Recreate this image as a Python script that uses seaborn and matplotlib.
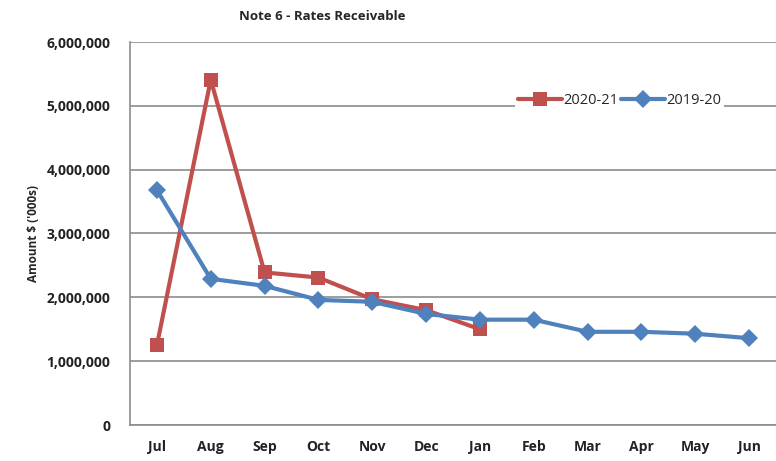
import numpy as np
import pandas as pd
import matplotlib
matplotlib.use('Agg')
import matplotlib.pyplot as plt
import seaborn as sns
from matplotlib.ticker import FuncFormatter

months = ['Jul', 'Aug', 'Sep', 'Oct', 'Nov', 'Dec', 'Jan', 'Feb', 'Mar', 'Apr', 'May', 'Jun']
rates_2021 = [1250000, 5410000, 2390000, 2310000, 1970000, 1800000, 1500000]
rates_1920 = [3680000, 2290000, 2180000, 1960000, 1930000, 1740000, 1650000,
              1650000, 1460000, 1460000, 1430000, 1360000]

df = pd.concat([
    pd.DataFrame({'Month': months[:len(rates_2021)], 'Amount': rates_2021, 'Year': '2020-21'}),
    pd.DataFrame({'Month': months, 'Amount': rates_1920, 'Year': '2019-20'}),
])
df['x'] = df['Month'].map({m: i for i, m in enumerate(months)})

sns.set_style('white')
plt.rcParams['font.family'] = ['Open Sans', 'DejaVu Sans']

fig = plt.figure(figsize=(7.76, 4.61), dpi=100)
ax = fig.add_axes([130 / 776, 1 - 425 / 461, 646 / 776, 383 / 461])

palette = {'2020-21': '#C0504D', '2019-20': '#4F81BD'}
markers = {'2020-21': 's', '2019-20': 'D'}
sns.lineplot(data=df, x='x', y='Amount', hue='Year', style='Year', palette=palette,
             markers=markers, dashes=False, linewidth=3, markersize=9.5,
             markeredgewidth=0, ax=ax, zorder=3)

ax.set_xlim(-0.5, 11.5)
ax.set_ylim(0, 6000000)
ax.set_xticks(range(len(months)))
ax.set_xticklabels(months)
ax.set_yticks(np.arange(0, 6000001, 1000000))
ax.yaxis.set_major_formatter(FuncFormatter(lambda v, p: f'{int(v):,}'))
ax.grid(axis='y', color='#8c8c8c', linewidth=1.2)
ax.set_axisbelow(True)
for s in ['top', 'right']:
    ax.spines[s].set_visible(False)
for s in ['left', 'bottom']:
    ax.spines[s].set_color('#8c8c8c')
    ax.spines[s].set_linewidth(1.2)
ax.tick_params(axis='both', length=0, labelsize=10, colors='#222222')
ax.tick_params(axis='x', pad=11)
ax.tick_params(axis='y', pad=14)
for lab in ax.get_xticklabels() + ax.get_yticklabels():
    lab.set_fontweight('bold')
ax.set_xlabel('')
ax.set_ylabel("Amount $ ('000s)", fontsize=8.5, fontweight='bold', labelpad=5)

ax.legend(loc='center', bbox_to_anchor=(0.758, 0.846), ncol=2, frameon=True,
          facecolor='white', edgecolor='none', framealpha=1, fontsize=10.5,
          handlelength=3, columnspacing=0.2, handletextpad=0.1, borderpad=0.2)

fig.text(322 / 776, 1 - 16 / 461, 'Note 6 - Rates Receivable', ha='center', va='center',
         fontsize=9.5, fontweight='bold')

fig.savefig('out.png', dpi=100)
